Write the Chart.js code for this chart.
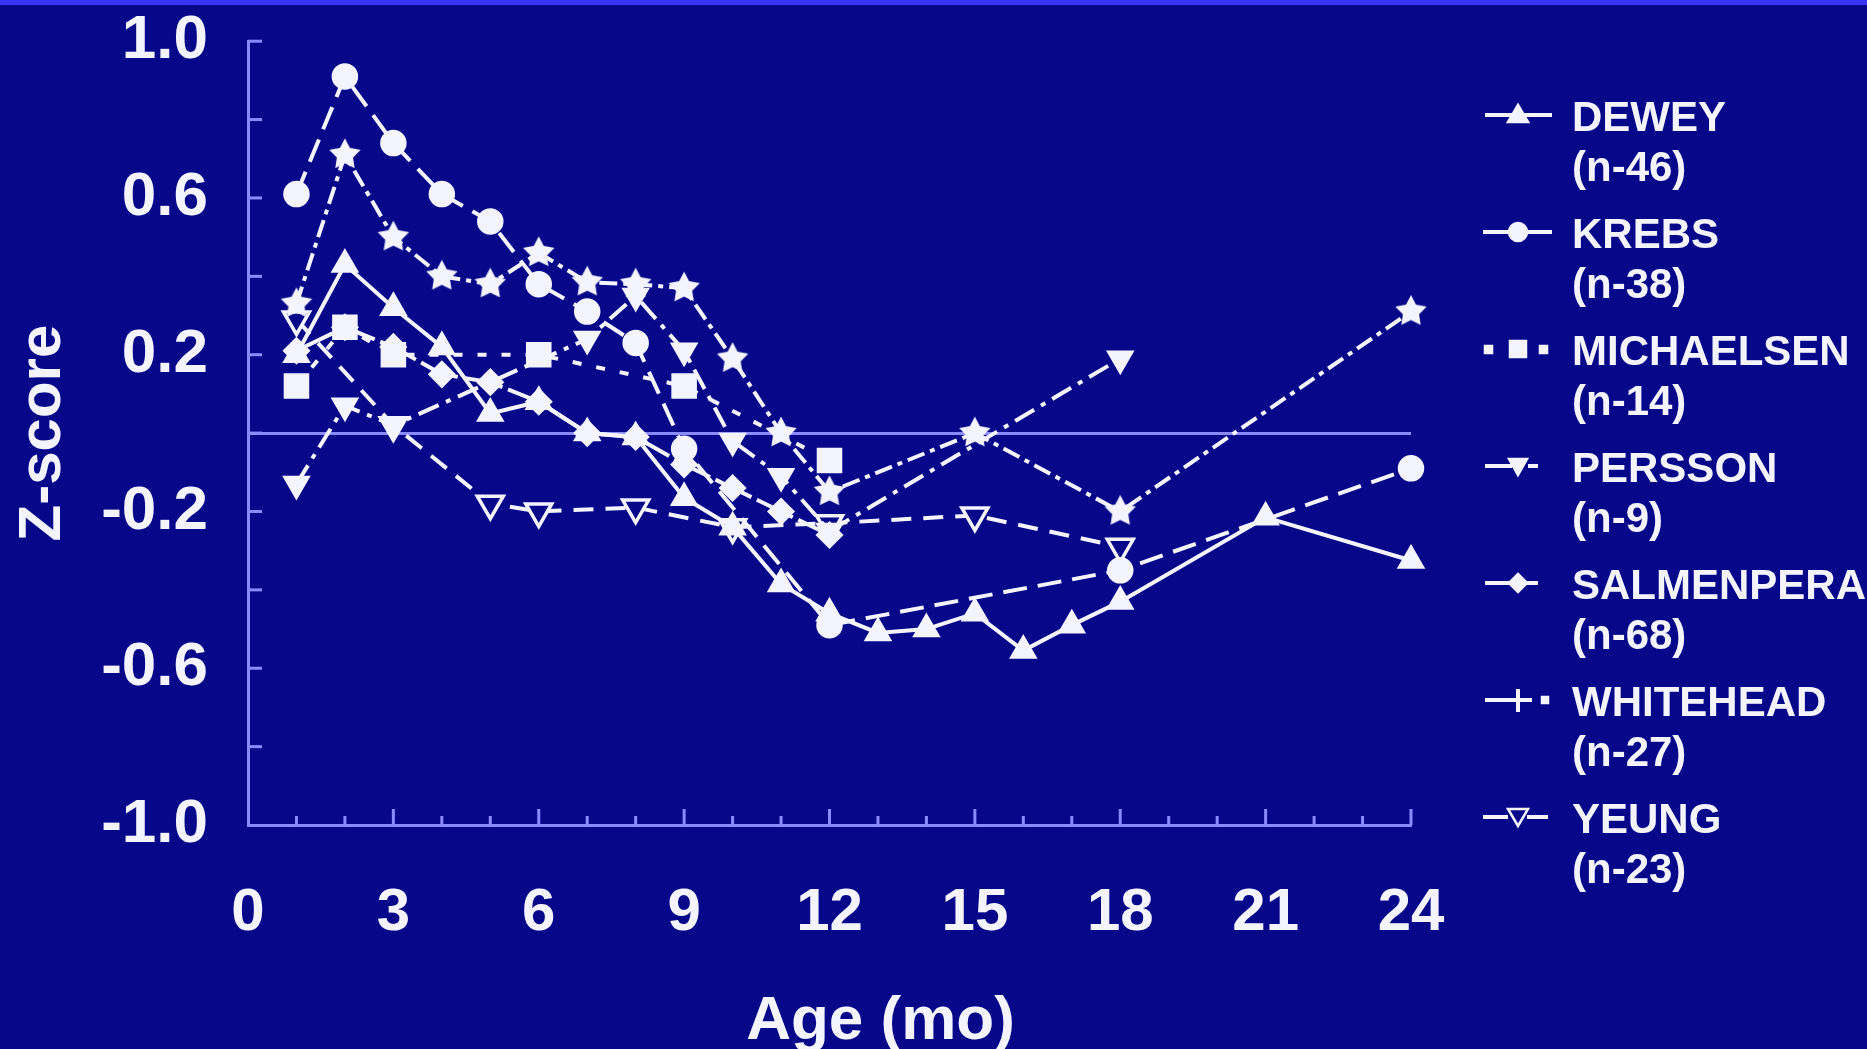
<!DOCTYPE html>
<html><head><meta charset="utf-8">
<script src="https://cdn.jsdelivr.net/npm/chart.js@4.4.0/dist/chart.umd.min.js"></script>
<style>
html,body{margin:0;padding:0;background:#07078a;overflow:hidden;}
#wrap{position:relative;width:1867px;height:1049px;overflow:hidden;}
#topbar{position:absolute;left:0;top:0;width:1867px;height:5px;background:#3636ff;}
#c{position:absolute;left:0;top:-36px;}
.leg{position:absolute;left:1572px;font:bold 42px "Liberation Sans",Arial,sans-serif;color:#f4f4ff;line-height:50px;white-space:nowrap;}
.sw{position:absolute;left:1480px;}
</style></head><body>
<div id="wrap"><canvas id="c" width="1867" height="1085"></canvas><div id="topbar"></div><div id="legend"></div></div>
<script>
// ---- data (age in months, Z-score) ----
const DEWEY_AGE = [1,2,3,4,5,6,7,8,9,10,11,12,13,14,15,16,17,18,21,24];
const DEWEY_Z   = [0.20,0.43,0.32,0.22,0.05,0.08,0.00,-0.01,-0.165,-0.24,-0.385,-0.46,-0.51,-0.50,-0.46,-0.555,-0.49,-0.43,-0.215,-0.325];
const KREBS_AGE = [1,2,3,4,5,6,7,8,9,12,18,24];
const KREBS_Z   = [0.61,0.91,0.74,0.61,0.54,0.38,0.31,0.23,-0.04,-0.49,-0.35,-0.09];
const MICHAELSEN_AGE = [1,2,3,6,9,12];
const MICHAELSEN_Z   = [0.12,0.27,0.20,0.20,0.12,-0.07];
const PERSSON_AGE = [1,2,3,7,8,9,10,11,12,18];
const PERSSON_Z   = [-0.13,0.07,0.02,0.24,0.35,0.21,-0.02,-0.11,-0.25,0.19];
const SALMENPERA_AGE = [1,2,3,4,5,6,7,8,9,10,11,12];
const SALMENPERA_Z   = [0.21,0.27,0.22,0.15,0.13,0.08,0.00,-0.01,-0.08,-0.14,-0.20,-0.26];
const WHITEHEAD_AGE = [1,2,3,4,5,6,7,8,9,10,11,12,15,18,24];
const WHITEHEAD_Z   = [0.33,0.71,0.50,0.40,0.38,0.46,0.385,0.38,0.37,0.19,0.00,-0.15,0.00,-0.20,0.31];
const YEUNG_AGE = [1,3,5,6,8,10,12,15,18];
const YEUNG_Z   = [0.29,0.02,-0.18,-0.20,-0.19,-0.24,-0.23,-0.21,-0.29];

const SERIES_NAMES = ['DEWEY','KREBS','MICHAELSEN','PERSSON','SALMENPERA','WHITEHEAD','YEUNG'];
const SERIES_N     = ['(n-46)','(n-38)','(n-14)','(n-9)','(n-68)','(n-27)','(n-23)'];
const X_TICK_LABELS = [0,3,6,9,12,15,18,21,24];
const Y_TICK_LABELS = [1.0,0.6,0.2,-0.2,-0.6,-1.0];

const BG = '#07078a', FG = '#f4f4ff', AXIS = '#8a8aff';
const FONT = '"Liberation Sans", Arial, Helvetica, sans-serif';

function pts(xs, ys){ return xs.map((x,i)=>({x:x, y:ys[i]})); }

// filled star marker
function makeStar(){
  const c = document.createElement('canvas'); c.width = 34; c.height = 34;
  const g = c.getContext('2d'); g.fillStyle = FG; g.beginPath();
  for (let i=0;i<10;i++){
    const r = i%2===0 ? 16.5 : 8.5; const a = -Math.PI/2 + i*Math.PI/5;
    const px = 17 + r*Math.cos(a), py = 17 + r*Math.sin(a);
    if (i===0) g.moveTo(px,py); else g.lineTo(px,py);
  }
  g.closePath(); g.fill(); return c;
}
const STAR = makeStar();

function ds(label, xs, ys, dash, style, radius, extra){
  return Object.assign({
    label: label, data: pts(xs, ys), showLine: true, tension: 0,
    borderColor: FG, borderWidth: 4, borderDash: dash,
    pointStyle: style, pointRadius: radius, pointHoverRadius: radius,
    pointBackgroundColor: FG, pointBorderColor: FG, pointBorderWidth: 1.5,
    clip: false
  }, extra || {});
}

const datasets = [
  ds('DEWEY', DEWEY_AGE, DEWEY_Z, [], 'triangle', 15),
  ds('KREBS', KREBS_AGE, KREBS_Z, [24,11], 'circle', 12.5),
  ds('MICHAELSEN', MICHAELSEN_AGE, MICHAELSEN_Z, [9,15], 'rect', 17),
  ds('PERSSON', PERSSON_AGE, PERSSON_Z, [22,8,5,8], 'triangle', 15, {pointRotation: 180}),
  ds('SALMENPERA', SALMENPERA_AGE, SALMENPERA_Z, [40,6], 'rectRot', 13),
  ds('WHITEHEAD', WHITEHEAD_AGE, WHITEHEAD_Z, [18,6,5,6], STAR, 16),
  ds('YEUNG', YEUNG_AGE, YEUNG_Z, [20,12], 'triangle', 15, {pointRotation: 180, pointBackgroundColor: BG, pointBorderWidth: 3.5})
];

const inwardTicks = {
  id: 'inwardTicks',
  beforeDatasetsDraw(chart){
    const {ctx, scales:{x, y}} = chart;
    ctx.save(); ctx.strokeStyle = AXIS; ctx.lineWidth = 3;
    x.ticks.forEach(t => {
      if (Math.abs(t.value) < 1e-9) return;
      const px = x.getPixelForValue(t.value);
      const len = (Math.round(t.value) % 3 === 0) ? 16 : 9;
      ctx.beginPath(); ctx.moveTo(px, y.bottom); ctx.lineTo(px, y.bottom - len); ctx.stroke();
    });
    y.ticks.forEach(t => {
      if (Math.abs(t.value + 1) < 1e-9) return;
      const py = y.getPixelForValue(t.value);
      ctx.beginPath(); ctx.moveTo(x.left, py); ctx.lineTo(x.left + 14, py); ctx.stroke();
    });
    ctx.restore();
  },
  afterDraw(chart){
    const {ctx, scales:{x, y}} = chart;
    ctx.save(); ctx.fillStyle = FG; ctx.font = 'bold 62px ' + FONT;
    ctx.textAlign = 'center'; ctx.textBaseline = 'middle';
    ctx.fillText('Age (mo)', (x.left + x.right)/2 + 51, y.bottom + 197);
    ctx.restore();
  }
};

new Chart(document.getElementById('c'), {
  type: 'scatter',
  data: { datasets: datasets },
  options: {
    responsive: false, animation: false,
    layout: { padding: { left: 0, top: 0, right: 456, bottom: 0 } },
    plugins: { legend: { display: false }, tooltip: { enabled: false } },
    scales: {
      x: {
        type: 'linear', min: 0, max: 24,
        afterFit: s => { s.height = 224; },
        border: { display: true, color: AXIS, width: 3 },
        grid: { display: false, drawTicks: false },
        ticks: {
          stepSize: 1, autoSkip: false, maxRotation: 0, padding: 52,
          color: FG, font: { family: FONT, size: 60, weight: 'bold' },
          callback: v => X_TICK_LABELS.includes(Math.round(v)) && Math.abs(v - Math.round(v)) < 1e-9 ? String(Math.round(v)) : ''
        }
      },
      y: {
        type: 'linear', min: -1, max: 1,
        afterFit: s => { s.width = 248; },
        border: { display: true, color: AXIS, width: 3 },
        grid: {
          drawTicks: false, drawOnChartArea: true, lineWidth: 3,
          color: c => (c.tick && Math.abs(c.tick.value) < 1e-9) ? AXIS : 'rgba(0,0,0,0)'
        },
        title: { display: true, text: 'Z-score', color: FG, padding: { top: 7, bottom: 0 },
                 font: { family: FONT, size: 60, weight: 'bold' } },
        ticks: {
          stepSize: 0.2, autoSkip: false, padding: 40,
          color: FG, font: { family: FONT, size: 62, weight: 'bold' },
          callback: v => {
            const m = Y_TICK_LABELS.find(l => Math.abs(l - v) < 1e-6);
            return m === undefined ? '' : m.toFixed(1);
          }
        }
      }
    }
  },
  plugins: [inwardTicks]
});

// ---- legend (HTML) ----
const SW = {
  DEWEY: '<line x1="5" y1="15" x2="72" y2="15"/><polygon points="38,5 48,22 28,22" class="f"/>',
  KREBS: '<line x1="3" y1="15" x2="72" y2="15"/><circle cx="38" cy="15" r="9" class="f"/>',
  MICHAELSEN: '<rect x="5" y="12" width="7" height="7" class="f"/><rect x="30" y="7" width="16" height="16" class="f"/><rect x="60" y="12" width="7" height="7" class="f"/>',
  PERSSON: '<line x1="5" y1="15" x2="32" y2="15"/><line x1="48" y1="15" x2="58" y2="15"/><polygon points="29,8 47,8 38,24" class="f"/>',
  SALMENPERA: '<line x1="5" y1="15" x2="31" y2="15"/><line x1="45" y1="15" x2="58" y2="15"/><polygon points="38,6 47,15 38,24 29,15" class="f"/>',
  WHITEHEAD: '<line x1="5" y1="15" x2="52" y2="15"/><line x1="38" y1="4" x2="38" y2="27"/><rect x="62" y="12" width="6" height="6" class="f"/>',
  YEUNG: '<line x1="3" y1="15" x2="28" y2="15"/><line x1="47" y1="15" x2="68" y2="15"/><polygon points="28,7 48,7 38,24" style="fill:'+BG+'"/>'
};
const leg = document.getElementById('legend');
SERIES_NAMES.forEach((name, i) => {
  const cy = 117 + 117 * i;
  const t = document.createElement('div'); t.className = 'leg';
  t.style.top = (cy - 25) + 'px';
  t.innerHTML = name + '<br>' + SERIES_N[i];
  leg.appendChild(t);
  const s = document.createElement('div'); s.className = 'sw'; s.style.top = (cy - 17) + 'px';
  s.innerHTML = '<svg width="80" height="30" xmlns="http://www.w3.org/2000/svg"><style>line{stroke:'+FG+';stroke-width:4}polygon,circle,rect{stroke:'+FG+';stroke-width:2.5}.f{fill:'+FG+'}</style>' + SW[name] + '</svg>';
  leg.appendChild(s);
});
</script>
</body></html>
